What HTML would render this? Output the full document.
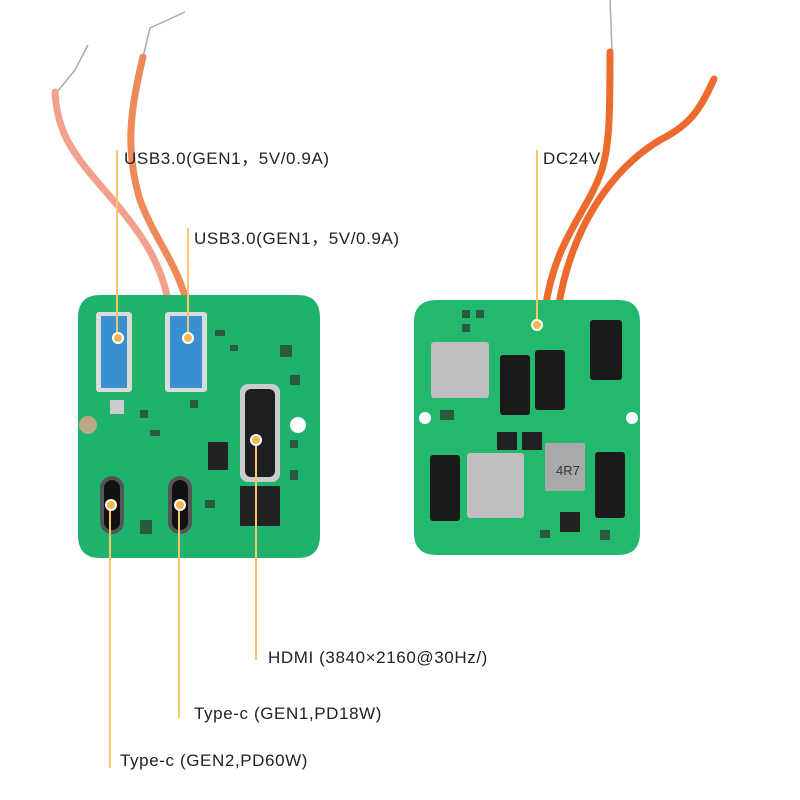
<!DOCTYPE html>
<html><head><meta charset="utf-8"><style>
html,body{margin:0;padding:0;background:#fff;width:800px;height:800px;overflow:hidden}
svg{display:block}
text{font-family:"Liberation Sans","Noto Sans CJK SC",sans-serif;font-size:17px;letter-spacing:0.6px;fill:#222}
</style></head><body>
<svg width="800" height="800" viewBox="0 0 800 800" xmlns="http://www.w3.org/2000/svg">
<!-- left wires -->
<path d="M57,92 L75,70 L88,45" stroke="#aaa" stroke-width="1.5" fill="none"/>
<path d="M143,57 L150,28 L185,12" stroke="#aaa" stroke-width="1.5" fill="none"/>
<path d="M55,92 C57,130 70,150 100,185 C140,230 160,260 168,300" stroke="#f3a08c" stroke-width="7" fill="none" stroke-linecap="round"/>
<path d="M143,57 C130,110 125,150 140,200 C155,240 175,260 186,300" stroke="#ee8a5a" stroke-width="7" fill="none" stroke-linecap="round"/>
<!-- right wires -->
<path d="M610,0 L612,50" stroke="#aaa" stroke-width="1.5" fill="none"/>
<path d="M610,52 C610,110 610,150 600,175 C585,215 555,240 545,310" stroke="#ec6a2c" stroke-width="7" fill="none" stroke-linecap="round"/>
<path d="M714,79 C700,110 690,125 660,140 C610,170 570,230 558,310" stroke="#ec6a2c" stroke-width="7" fill="none" stroke-linecap="round"/>
<!-- left board -->
<path d="M100,295 H298 Q320,295 320,318 V535 Q320,558 298,558 H100 Q78,558 78,535 V318 Q78,295 100,295 Z" fill="#1fb26c"/>
<circle cx="298" cy="425" r="8" fill="#fff"/>
<circle cx="88" cy="425" r="9" fill="#b9a987"/>
<g fill="#2a5a40">
<rect x="215" y="330" width="10" height="6"/><rect x="230" y="345" width="8" height="6"/><rect x="140" y="410" width="8" height="8"/>
<rect x="150" y="430" width="10" height="6"/><rect x="190" y="400" width="8" height="8"/><rect x="205" y="500" width="10" height="8"/>
<rect x="280" y="345" width="12" height="12"/><rect x="290" y="375" width="10" height="10"/><rect x="140" y="520" width="12" height="14"/>
<rect x="290" y="440" width="8" height="8"/><rect x="290" y="470" width="8" height="10"/>
</g>
<rect x="96" y="312" width="36" height="80" rx="3" fill="#d7dcd9"/>
<rect x="101" y="316" width="26" height="72" fill="#3a8fd0"/>
<rect x="165" y="312" width="42" height="80" rx="3" fill="#d7dcd9"/>
<rect x="170" y="316" width="32" height="72" fill="#3a8fd0"/>
<rect x="240" y="384" width="40" height="98" rx="8" fill="#c9cdcb"/>
<rect x="245" y="389" width="30" height="88" rx="6" fill="#1c1e1f"/>
<rect x="240" y="486" width="40" height="40" fill="#222"/>
<rect x="208" y="442" width="20" height="28" fill="#222"/>
<rect x="100" y="476" width="24" height="58" rx="12" fill="#555"/>
<rect x="104" y="480" width="16" height="50" rx="8" fill="#111"/>
<rect x="168" y="476" width="24" height="58" rx="12" fill="#555"/>
<rect x="172" y="480" width="16" height="50" rx="8" fill="#111"/>
<rect x="110" y="400" width="14" height="14" fill="#ccc"/>
<!-- right board -->
<path d="M437,300 H618 Q640,300 640,322 V533 Q640,555 618,555 H437 Q414,555 414,533 V322 Q414,300 437,300 Z" fill="#22b86e"/>
<circle cx="425" cy="418" r="6" fill="#fff"/><circle cx="632" cy="418" r="6" fill="#fff"/>
<g fill="#2a5a40">
<rect x="462" y="310" width="8" height="8"/><rect x="476" y="310" width="8" height="8"/><rect x="462" y="324" width="8" height="8"/>
<rect x="440" y="410" width="14" height="10"/><rect x="600" y="530" width="10" height="10"/><rect x="540" y="530" width="10" height="8"/>
</g>
<rect x="431" y="342" width="58" height="56" rx="3" fill="#bfbfbf"/>
<rect x="467" y="453" width="57" height="65" rx="3" fill="#bfbfbf"/>
<rect x="545" y="443" width="40" height="48" rx="2" fill="#a9a9a9"/>
<text x="556" y="475" style="font-size:13px;letter-spacing:0;fill:#333">4R7</text>
<rect x="500" y="355" width="30" height="60" rx="3" fill="#1a1a1a"/>
<rect x="535" y="350" width="30" height="60" rx="3" fill="#1a1a1a"/>
<rect x="590" y="320" width="32" height="60" rx="3" fill="#1a1a1a"/>
<rect x="430" y="455" width="30" height="66" rx="3" fill="#1a1a1a"/>
<rect x="595" y="452" width="30" height="66" rx="3" fill="#1a1a1a"/>
<rect x="497" y="432" width="20" height="18" fill="#222"/><rect x="522" y="432" width="20" height="18" fill="#222"/>
<rect x="560" y="512" width="20" height="20" fill="#222"/>
<!-- callouts -->
<g stroke="#f9c56c" stroke-width="2">
<line x1="117" y1="150" x2="117" y2="338"/>
<line x1="188" y1="228" x2="188" y2="338"/>
<line x1="537" y1="150" x2="537" y2="325"/>
<line x1="256" y1="440" x2="256" y2="660"/>
<line x1="179" y1="505" x2="179" y2="718"/>
<line x1="110" y1="505" x2="110" y2="768"/>
</g>
<g fill="#f5b54f" stroke="#fff" stroke-width="2">
<circle cx="118" cy="338" r="5"/><circle cx="188" cy="338" r="5"/>
<circle cx="537" cy="325" r="5"/><circle cx="256" cy="440" r="5"/>
<circle cx="180" cy="505" r="5"/><circle cx="111" cy="505" r="5"/>
</g>
<text x="124" y="164">USB3.0(GEN1，5V/0.9A)</text>
<text x="194" y="244">USB3.0(GEN1，5V/0.9A)</text>
<text x="543" y="164">DC24V</text>
<text x="268" y="663">HDMI (3840×2160@30Hz/)</text>
<text x="194" y="719">Type-c (GEN1,PD18W)</text>
<text x="120" y="766">Type-c (GEN2,PD60W)</text>
</svg>
</body></html>
